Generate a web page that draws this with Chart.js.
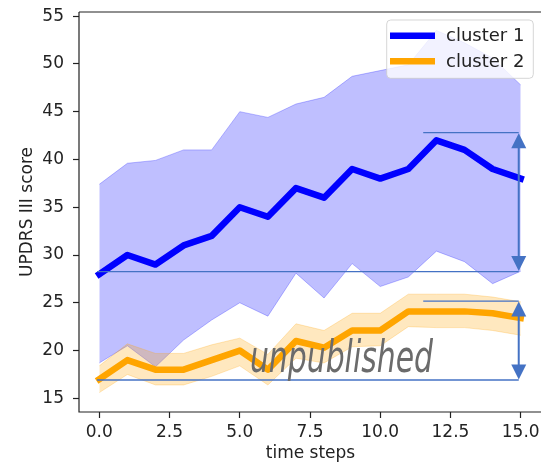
<!DOCTYPE html>
<html>
<head>
<meta charset="utf-8">
<script src="https://cdn.jsdelivr.net/npm/chart.js@4.4.1/dist/chart.umd.min.js"></script>
<style>
  html, body { margin: 0; padding: 0; background: #ffffff; }
  #wrap { width: 541px; height: 464px; }
</style>
</head>
<body>
<div id="wrap"><canvas id="chart" width="541" height="464"></canvas></div>
<script>
// UPDRS III score per time step, mean and spread band for each cluster
const timeSteps = [0, 1, 2, 3, 4, 5, 6, 7, 8, 9, 10, 11, 12, 13, 14, 15];

const cluster1Mean  = [28, 30, 29, 31, 32, 35, 34, 37, 36, 39, 38, 39, 42, 41, 39, 38];
const cluster1Upper = [37.4, 39.6, 39.9, 41.0, 41.0, 45.0, 44.4, 45.8, 46.5, 48.7, 49.3, 49.9, 53.5, 52.2, 50.6, 47.8];
const cluster1Lower = [18.7, 20.5, 18.3, 21.1, 23.2, 25.0, 23.6, 28.1, 25.5, 29.1, 26.7, 27.7, 30.4, 29.3, 27.0, 28.3];

const cluster2Mean  = [17, 19, 18, 18, 19, 20, 18, 21, 20.3, 22.1, 22.1, 24.1, 24.1, 24.1, 23.9, 23.4];
const cluster2Upper = [18.4, 20.7, 19.7, 19.7, 20.6, 21.3, 19.6, 22.8, 22.1, 23.9, 23.9, 25.9, 25.9, 25.9, 25.6, 25.1];
const cluster2Lower = [15.6, 17.5, 16.4, 16.4, 17.3, 18.4, 16.4, 19.2, 18.7, 20.4, 20.5, 22.5, 22.4, 22.4, 22.1, 21.6];

const seriesNames = ['cluster 1', 'cluster 2'];

const xTickValues = [0, 2.5, 5, 7.5, 10, 12.5, 15];
const yTickValues = [15, 20, 25, 30, 35, 40, 45, 50, 55];

// Range markers: horizontal guides at the low and high level, joined by a double arrow
const rangeLow      = [28.27, 16.92];
const rangeHigh     = [42.8, 25.18];
const rangeLowFrom  = [-0.08, -0.08];
const rangeHighFrom = [11.53, 11.53];
const rangeArrowAt  = [14.93, 14.93];

const BLUE = '#0000ff';
const ORANGE = '#ffa500';
const BLUE_BAND = 'rgba(0, 0, 255, 0.25)';
const ORANGE_BAND = 'rgba(255, 165, 0, 0.25)';
const MARK_COLOR = '#4472c4';
const TEXT_COLOR = '#222222';
const FONT = '"DejaVu Sans", sans-serif';

const pts = arr => timeSteps.map((t, i) => ({ x: t, y: arr[i] }));

function line(ctx, x1, y1, x2, y2) {
  ctx.beginPath();
  ctx.moveTo(x1, y1);
  ctx.lineTo(x2, y2);
  ctx.stroke();
}

function arrowHead(ctx, x, tipY, dir) {
  // dir = -1 points up, +1 points down
  const len = 15, half = 7.5;
  ctx.beginPath();
  ctx.moveTo(x, tipY);
  ctx.lineTo(x - half, tipY - dir * len);
  ctx.lineTo(x + half, tipY - dir * len);
  ctx.closePath();
  ctx.fill();
}

function roundRect(ctx, x, y, w, h, r) {
  ctx.beginPath();
  ctx.moveTo(x + r, y);
  ctx.lineTo(x + w - r, y);
  ctx.arcTo(x + w, y, x + w, y + r, r);
  ctx.lineTo(x + w, y + h - r);
  ctx.arcTo(x + w, y + h, x + w - r, y + h, r);
  ctx.lineTo(x + r, y + h);
  ctx.arcTo(x, y + h, x, y + h - r, r);
  ctx.lineTo(x, y + r);
  ctx.arcTo(x, y, x + r, y, r);
  ctx.closePath();
}

const decorations = {
  id: 'decorations',
  afterDatasetsDraw(chart) {
    const { ctx, chartArea: a, scales: { x, y } } = chart;
    ctx.save();

    // axes frame (left, top, bottom)
    ctx.strokeStyle = TEXT_COLOR;
    ctx.lineWidth = 1.2;
    ctx.beginPath();
    ctx.moveTo(a.left, a.top);
    ctx.lineTo(a.left, a.bottom);
    ctx.lineTo(a.right, a.bottom);
    ctx.moveTo(a.left, a.top);
    ctx.lineTo(a.right, a.top);
    ctx.stroke();

    // range markers
    ctx.strokeStyle = MARK_COLOR;
    ctx.fillStyle = MARK_COLOR;
    rangeLow.forEach((low, i) => {
      const yl = y.getPixelForValue(low);
      const yh = y.getPixelForValue(rangeHigh[i]);
      const xa = x.getPixelForValue(rangeArrowAt[i]);
      ctx.lineWidth = 1.3;
      line(ctx, x.getPixelForValue(rangeLowFrom[i]), yl, xa, yl);
      line(ctx, x.getPixelForValue(rangeHighFrom[i]), yh, xa, yh);
      ctx.lineWidth = 2;
      line(ctx, xa, yh + 12, xa, yl - 12);
      arrowHead(ctx, xa, yh + 0.5, -1);
      arrowHead(ctx, xa, yl - 0.5, 1);
    });

    // watermark
    const label = 'unpublished';
    const left = x.getPixelForValue(5.36), right = x.getPixelForValue(11.88);
    const base = y.getPixelForValue(17.78);
    ctx.font = 'italic 44px ' + FONT;
    const w = ctx.measureText(label).width;
    ctx.translate(left, base);
    ctx.scale((right - left) / w, 1);
    ctx.fillStyle = '#6b6b6b';
    ctx.textAlign = 'left';
    ctx.textBaseline = 'alphabetic';
    ctx.fillText(label, 0, 0);
    ctx.restore();
  },
  afterDraw(chart) {
    const { ctx, chartArea: a } = chart;
    ctx.save();
    ctx.fillStyle = TEXT_COLOR;
    ctx.font = '17px ' + FONT;

    // axis titles
    ctx.textAlign = 'center';
    ctx.textBaseline = 'alphabetic';
    ctx.fillText('time steps', (a.left + a.right) / 2 + 0.5, 457.5);
    ctx.save();
    ctx.translate(31.5, (a.top + a.bottom) / 2);
    ctx.rotate(-Math.PI / 2);
    ctx.fillText('UPDRS III score', 0, 0);
    ctx.restore();

    // legend
    const bx = 386.7, by = 20, bw = 146.6, bh = 58.3;
    roundRect(ctx, bx, by, bw, bh, 4);
    ctx.fillStyle = 'rgba(255,255,255,0.8)';
    ctx.fill();
    ctx.strokeStyle = 'rgba(204,204,204,0.8)';
    ctx.lineWidth = 1;
    ctx.stroke();
    const colors = [BLUE, ORANGE];
    const rows = [35.7, 61.2];
    ctx.font = '18px ' + FONT;
    ctx.textAlign = 'left';
    ctx.textBaseline = 'middle';
    seriesNames.forEach((name, i) => {
      ctx.strokeStyle = colors[i];
      ctx.lineWidth = 6.5;
      ctx.lineCap = 'butt';
      line(ctx, 390, rows[i], 435, rows[i]);
      ctx.fillStyle = TEXT_COLOR;
      ctx.fillText(name, 446, rows[i] + 1);
    });
    ctx.restore();
  }
};

const lineStyle = { borderCapStyle: 'square', borderJoinStyle: 'round', tension: 0 };

new Chart(document.getElementById('chart'), {
  type: 'line',
  data: {
    datasets: [
      { label: 'cluster 1 upper', data: pts(cluster1Upper), borderColor: BLUE_BAND, borderWidth: 1,
        backgroundColor: BLUE_BAND, fill: 1, order: 6, tension: 0 },
      { label: 'cluster 1 lower', data: pts(cluster1Lower), borderColor: BLUE_BAND, borderWidth: 1,
        fill: false, order: 5, tension: 0 },
      { label: seriesNames[0], data: pts(cluster1Mean), borderColor: BLUE, borderWidth: 6.5,
        fill: false, order: 4, ...lineStyle },
      { label: 'cluster 2 upper', data: pts(cluster2Upper), borderColor: ORANGE_BAND, borderWidth: 1,
        backgroundColor: ORANGE_BAND, fill: 4, order: 3, tension: 0 },
      { label: 'cluster 2 lower', data: pts(cluster2Lower), borderColor: ORANGE_BAND, borderWidth: 1,
        fill: false, order: 2, tension: 0 },
      { label: seriesNames[1], data: pts(cluster2Mean), borderColor: ORANGE, borderWidth: 6.5,
        fill: false, order: 1, ...lineStyle }
    ]
  },
  options: {
    responsive: false,
    animation: false,
    devicePixelRatio: 1,
    layout: { padding: { top: 12, left: 0, right: 0, bottom: 0 } },
    elements: { point: { radius: 0, hoverRadius: 0 } },
    plugins: { legend: { display: false }, tooltip: { enabled: false } },
    scales: {
      x: {
        type: 'linear',
        min: -0.7226,
        max: 15.7226,
        afterBuildTicks: s => { s.ticks = xTickValues.map(v => ({ value: v })); },
        afterFit: s => { s.height = 52; s.paddingLeft = 0; s.paddingRight = 0; },
        border: { display: false },
        grid: { drawOnChartArea: false, drawTicks: true, tickLength: 6, tickColor: TEXT_COLOR, tickWidth: 1.2 },
        ticks: {
          autoSkip: false, maxRotation: 0, padding: 4, color: TEXT_COLOR,
          font: { family: FONT, size: 17 },
          callback: v => Number(v).toFixed(1)
        }
      },
      y: {
        type: 'linear',
        min: 13.57,
        max: 55.43,
        afterBuildTicks: s => { s.ticks = yTickValues.map(v => ({ value: v })); },
        afterFit: s => { s.width = 79; s.paddingTop = 0; s.paddingBottom = 0; },
        border: { display: false },
        grid: { drawOnChartArea: false, drawTicks: true, tickLength: 6, tickColor: TEXT_COLOR, tickWidth: 1.2 },
        ticks: {
          padding: 9, color: TEXT_COLOR,
          font: { family: FONT, size: 17 },
          callback: v => String(v)
        }
      }
    }
  },
  plugins: [decorations]
});
</script>
</body>
</html>
